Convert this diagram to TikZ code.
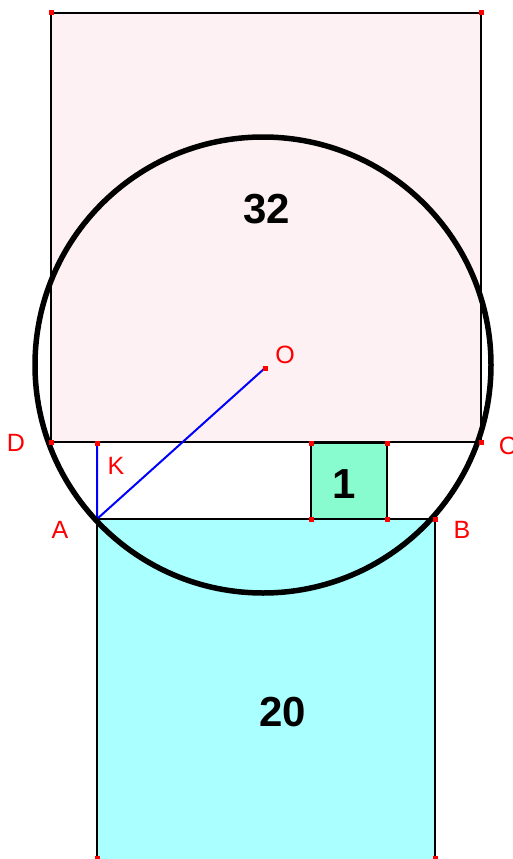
\documentclass[tikz,border=0pt]{standalone}
\usepackage{fontspec}
\setmainfont{Liberation Sans}
\begin{document}
\begin{tikzpicture}[x=1pt,y=-1pt,
  pt/.style={fill=red,inner sep=0pt,minimum size=5pt,draw=none},
  lbl/.style={text=red,font=\fontsize{25}{28}\selectfont,inner sep=0pt},
  num/.style={font=\bfseries\fontsize{42}{46}\selectfont,inner sep=0pt},
  edge/.style={draw=black,line width=2pt}]
\useasboundingbox (0,0) rectangle (512,859);
% fills
\fill[fill={rgb,255:red,253;green,241;blue,243}] (51,13) rectangle (481,442);
\fill[fill={rgb,255:red,170;green,255;blue,255}] (97,519) rectangle (435,860);
\fill[fill={rgb,255:red,136;green,252;blue,206}] (311,443) rectangle (387,519);
% named points
\coordinate (TL) at (51,13);
\coordinate (TR) at (481,13);
\coordinate (D) at (51,442);
\coordinate (C) at (481,442);
\coordinate (K) at (97,443);
\coordinate (A) at (97,519);
\coordinate (B) at (435,519);
\coordinate (O) at (265,368);
\coordinate (S1) at (311,443);
\coordinate (S2) at (387,443);
\coordinate (S3) at (387,519);
\coordinate (S4) at (311,519);
\coordinate (BL) at (97,858);
\coordinate (BR) at (435,858);
% edges
\draw[edge] (D) -- (TL) -- (TR) -- (C) -- (D);
\draw[edge] (S1) -- (S2) -- (S3) -- (S4) -- cycle;
\draw[edge] (BL) -- (A) -- (B) -- (BR);
% blue lines
\draw[blue,line width=2pt] (K) -- (A) -- (O);
% circle
\draw[black,line width=5.5pt] (263,365) circle (228);
% points
\foreach \p in {TL,TR,D,C,K,O,S1,S2,S3,S4,B,BL,BR}
  \node[pt] (dot\p) at (\p) {};
% labels
\node[lbl] (lD) at (16,443) {D};
\node[lbl] (lK) at (116,466) {K};
\node[lbl] (lA) at (60,530) {A};
\node[lbl] (lO) at (285,355) {O};
\node[lbl] (lC) at (508,446) {C};
\node[lbl] (lB) at (462,530) {B};
\node[num] (n32) at (267,209) {32};
\node[num] (n1) at (344,484) {1};
\node[num] (n20) at (283,712) {20};
\end{tikzpicture}
\end{document}
